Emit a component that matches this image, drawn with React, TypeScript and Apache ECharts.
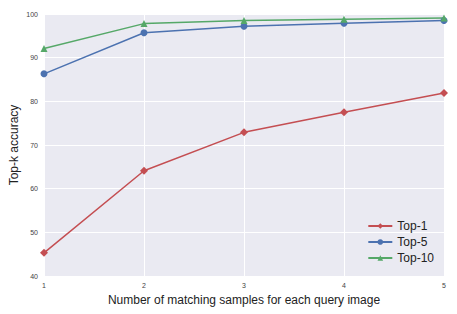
import React, { useEffect, useRef } from "react";
import * as echarts from "echarts";

const xValues = [1, 2, 3, 4, 5];
const top1 = [45.3, 64.1, 72.9, 77.5, 81.9];
const top5 = [86.3, 95.7, 97.2, 97.9, 98.5];
const top10 = [92.1, 97.8, 98.5, 98.8, 99.1];
const seriesNames = ["Top-1", "Top-5", "Top-10"];

export default function App() {
  const ref = useRef<HTMLDivElement>(null);
  useEffect(() => {
    if (!ref.current) return;
    const chart = echarts.init(ref.current, undefined, { renderer: "svg" });
    const mk = (name: string, vals: number[], color: string, symbol: string, size: number) => ({
      name,
      type: "line",
      data: xValues.map((x, i) => [x, vals[i]]),
      symbol,
      symbolSize: size,
      itemStyle: { color },
      lineStyle: { color, width: 1.5 },
      emphasis: { disabled: true },
    });
    chart.setOption({
      animation: false,
      backgroundColor: "#fff",
      textStyle: { fontFamily: "Liberation Sans" },
      grid: {
        left: 44, right: 13, top: 14, bottom: 38,
        backgroundColor: "#EAEAF2", show: true, borderWidth: 0,
        outerBoundsMode: "none", containLabel: false,
      },
      legend: {
        right: 18,
        bottom: 45,
        orient: "vertical",
        itemWidth: 24,
        itemHeight: 7,
        itemGap: 4,
        textStyle: { fontSize: 12, color: "#222", fontFamily: "Liberation Sans" },
        data: seriesNames,
      },
      xAxis: {
        type: "value",
        min: 1,
        max: 5,
        interval: 1,
        name: "Number of matching samples for each query image",
        nameLocation: "middle",
        nameGap: 18,
        nameMoveOverlap: false,
        nameTextStyle: { fontSize: 12, color: "#222", fontFamily: "Liberation Sans" },
        axisLine: { show: false },
        axisTick: { show: false },
        axisLabel: { fontSize: 7, color: "#444", margin: 6 },
        splitLine: { show: true, lineStyle: { color: "#fff", width: 1 } },
      },
      yAxis: {
        type: "value",
        min: 40,
        max: 100,
        interval: 10,
        name: "Top-k accuracy",
        nameLocation: "middle",
        nameGap: 24,
        nameMoveOverlap: false,
        nameTextStyle: { fontSize: 12, color: "#222", fontFamily: "Liberation Sans" },
        axisLine: { show: false },
        axisTick: { show: false },
        axisLabel: { fontSize: 7, color: "#444", margin: 6 },
        splitLine: { show: true, lineStyle: { color: "#fff", width: 1 } },
      },
      series: [
        mk("Top-1", top1, "#C44E52", "diamond", 8),
        mk("Top-5", top5, "#4C72B0", "circle", 7),
        mk("Top-10", top10, "#55A868", "triangle", 7),
      ],
    });
    return () => chart.dispose();
  }, []);
  return <div ref={ref} style={{ width: 457, height: 314, position: "absolute", left: 0, top: 0 }} />;
}
